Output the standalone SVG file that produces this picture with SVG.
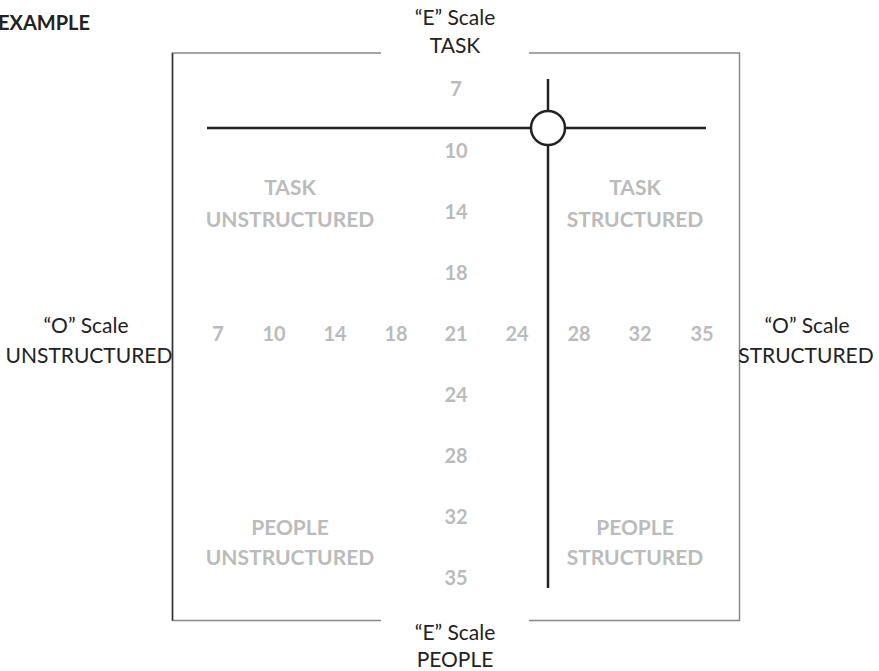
<svg xmlns="http://www.w3.org/2000/svg" width="879" height="671" viewBox="0 0 879 671">
<style>
.lbl{font-family:Lato,"Liberation Sans",sans-serif;font-size:21px;fill:#222;text-anchor:middle}
.num{font-family:Lato,"Liberation Sans",sans-serif;font-size:20px;font-weight:bold;fill:#bbb;text-anchor:middle}
.quad{font-family:Lato,"Liberation Sans",sans-serif;font-size:21px;font-weight:bold;fill:#bbb;text-anchor:middle}
.frame{stroke:#888;stroke-width:1.5;fill:none}
.axis{stroke:#222;stroke-width:2.5;fill:none}
</style>
<rect width="879" height="671" fill="#fff"/>
<text x="90" y="30" font-family="Lato,'Liberation Sans',sans-serif" font-size="20" font-weight="bold" fill="#222" text-anchor="end">EXAMPLE</text>
<g id="frame">
<polyline class="frame" points="381,53 172.5,53 172.5,620.5 381,620.5"/>
<polyline class="frame" points="529,53 739.5,53 739.5,620.5 529,620.5"/>
<line x1="172.5" y1="53" x2="172.5" y2="620.5" stroke="#333" stroke-width="1.5"/>
</g>
<g id="labels">
<text class="lbl" x="455" y="25">“E” Scale</text>
<text class="lbl" x="455" y="53">TASK</text>
<text class="lbl" x="455" y="640">“E” Scale</text>
<text class="lbl" x="455" y="667">PEOPLE</text>
<text class="lbl" x="86" y="333">“O” Scale</text>
<text class="lbl" x="89" y="363">UNSTRUCTURED</text>
<text class="lbl" x="807" y="333">“O” Scale</text>
<text class="lbl" x="806" y="363">STRUCTURED</text>
</g>
<g id="quadrants">
<text class="quad" x="290" y="195">TASK</text>
<text class="quad" x="290" y="227">UNSTRUCTURED</text>
<text class="quad" x="635" y="195">TASK</text>
<text class="quad" x="635" y="227">STRUCTURED</text>
<text class="quad" x="290" y="535">PEOPLE</text>
<text class="quad" x="290" y="565">UNSTRUCTURED</text>
<text class="quad" x="635" y="535">PEOPLE</text>
<text class="quad" x="635" y="565">STRUCTURED</text>
</g>
<g id="vscale">
<text class="num" x="456" y="96">7</text>
<text class="num" x="456" y="158">10</text>
<text class="num" x="456" y="219">14</text>
<text class="num" x="456" y="280">18</text>
<text class="num" x="456" y="402">24</text>
<text class="num" x="456" y="463">28</text>
<text class="num" x="456" y="524">32</text>
<text class="num" x="456" y="585">35</text>
</g>
<g id="hscale">
<text class="num" x="218" y="341">7</text>
<text class="num" x="274" y="341">10</text>
<text class="num" x="335" y="341">14</text>
<text class="num" x="396" y="341">18</text>
<text class="num" x="456" y="341">21</text>
<text class="num" x="517" y="341">24</text>
<text class="num" x="579" y="341">28</text>
<text class="num" x="640" y="341">32</text>
<text class="num" x="702" y="341">35</text>
</g>
<g id="connectors">
<line class="axis" x1="207" y1="128" x2="531" y2="128"/>
<line class="axis" x1="565" y1="128" x2="706" y2="128"/>
<line class="axis" x1="548" y1="79" x2="548" y2="111"/>
<line class="axis" x1="548" y1="145" x2="548" y2="588"/>
</g>
<g id="marker">
<circle class="axis" cx="548" cy="128" r="17" fill="#fff"/>
</g>
</svg>
